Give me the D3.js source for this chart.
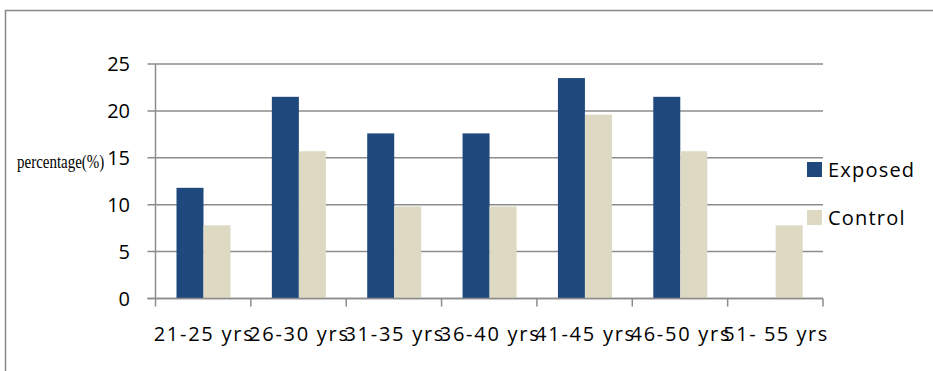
<!DOCTYPE html>
<html>
<head>
    <script src="https://d3js.org/d3.v7.min.js"></script>
    <style>
        body { margin: 0; background: white; }
        svg { display: block; }
    </style>
</head>
<body>
    <svg width="933" height="371"></svg>
    <script>
        // data
        let categories = ["21-25 yrs", "26-30 yrs", "31-35 yrs", "36-40 yrs", "41-45 yrs", "46-50 yrs", "51- 55 yrs"];
        let exposed = [11.8, 21.5, 17.6, 17.6, 23.5, 21.5, 0];
        let control = [7.8, 15.7, 9.8, 9.8, 19.6, 15.7, 7.8];
        let yTicks = [0, 5, 10, 15, 20, 25];
        let seriesNames = ["Exposed", "Control"];
        let colors = ["#1F497D", "#DDD9C3"];

        let svg = d3.select("svg");
        let plotLeft = 155.5, plotRight = 823, plotTop = 64, plotBottom = 298.5;
        let font = "'Open Sans', sans-serif";

        // outer frame
        svg.append("rect")
            .attr("x", 5.5).attr("y", 10.5)
            .attr("width", 940).attr("height", 380)
            .attr("fill", "none").attr("stroke", "#888").attr("stroke-width", 1.5);

        let x = d3.scaleBand().domain(categories).range([plotLeft, plotRight]).paddingInner(0).paddingOuter(0);
        let y = d3.scaleLinear().domain([0, 25]).range([plotBottom, plotTop]);

        // gridlines
        svg.append("g").selectAll("line")
            .data(yTicks)
            .enter().append("line")
            .attr("x1", plotLeft - 8).attr("x2", plotRight)
            .attr("y1", d => y(d)).attr("y2", d => y(d))
            .attr("stroke", "#8c8c8c").attr("stroke-width", 1.5);

        // y axis line
        svg.append("line")
            .attr("x1", plotLeft).attr("x2", plotLeft)
            .attr("y1", plotTop).attr("y2", plotBottom)
            .attr("stroke", "#8c8c8c").attr("stroke-width", 1.5);

        // y tick labels
        svg.append("g").selectAll("text")
            .data(yTicks)
            .enter().append("text")
            .attr("x", 130).attr("y", d => y(d) + 7)
            .attr("text-anchor", "end")
            .attr("font-family", font)
            .attr("font-size", 20)
            .attr("fill", "#000")
            .text(d => d);

        // y axis title (narrow serif, stretched vertically)
        svg.append("text")
            .attr("transform", "translate(17,168) scale(1,1.3)")
            .attr("font-family", "'Liberation Serif', serif")
            .attr("font-size", 15)
            .text("percentage(%)");

        // x axis ticks
        let xTickPos = categories.map(c => x(c)).concat([plotRight]);
        svg.append("g").selectAll("line")
            .data(xTickPos)
            .enter().append("line")
            .attr("x1", d => d).attr("x2", d => d)
            .attr("y1", plotBottom).attr("y2", plotBottom + 8)
            .attr("stroke", "#8c8c8c").attr("stroke-width", 1.5);

        // bars
        let bw = 27, offset = 21;
        svg.append("g").selectAll("rect")
            .data(categories)
            .enter().append("rect")
            .attr("x", d => x(d) + offset)
            .attr("y", (d, i) => y(exposed[i]))
            .attr("width", bw)
            .attr("height", (d, i) => plotBottom - y(exposed[i]))
            .attr("fill", colors[0]);

        svg.append("g").selectAll("rect")
            .data(categories)
            .enter().append("rect")
            .attr("x", d => x(d) + offset + bw)
            .attr("y", (d, i) => y(control[i]))
            .attr("width", bw)
            .attr("height", (d, i) => plotBottom - y(control[i]))
            .attr("fill", colors[1]);

        // x axis line (drawn over bars)
        svg.append("line")
            .attr("x1", plotLeft - 8).attr("x2", plotRight)
            .attr("y1", plotBottom).attr("y2", plotBottom)
            .attr("stroke", "#8c8c8c").attr("stroke-width", 1.5);

        // x labels
        svg.append("g").selectAll("text")
            .data(categories)
            .enter().append("text")
            .attr("x", d => x(d) + x.bandwidth() / 2)
            .attr("y", 341)
            .attr("text-anchor", "middle")
            .attr("font-family", font)
            .attr("font-size", 20)
            .attr("textLength", d => d.length > 9 ? 104 : 99)
            .attr("lengthAdjust", "spacing")
            .text(d => d);

        // legend
        let legend = svg.append("g").selectAll("g")
            .data(seriesNames)
            .enter().append("g")
            .attr("transform", (d, i) => "translate(807," + (162 + i * 48) + ")");
        legend.append("rect")
            .attr("width", 15).attr("height", 15)
            .attr("fill", (d, i) => colors[i]);
        legend.append("text")
            .attr("x", 21).attr("y", 14.5)
            .attr("font-family", font)
            .attr("font-size", 20)
            .attr("letter-spacing", 1.2)
            .text(d => d);
    </script>
</body>
</html>
